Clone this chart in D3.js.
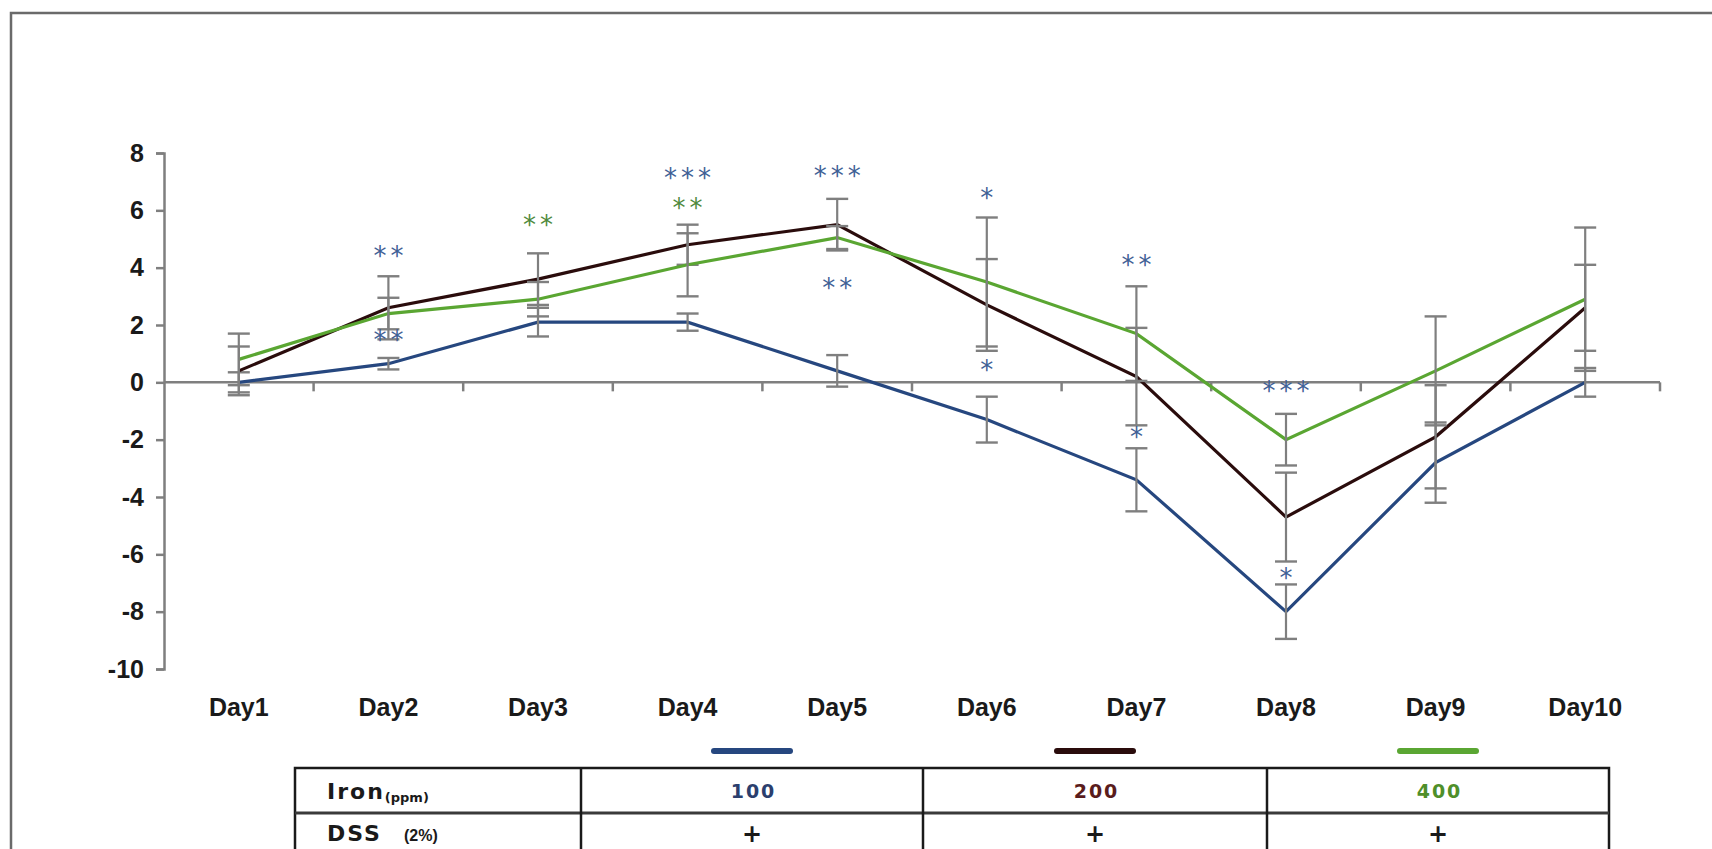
<!DOCTYPE html>
<html>
<head>
<meta charset="utf-8">
<script src="https://cdn.jsdelivr.net/npm/d3@7"></script>
<style>
  html, body { margin: 0; padding: 0; background: #fff; }
  svg { display: block; }
</style>
</head>
<body>
<svg id="chart" width="1712" height="849"></svg>
<script>
// ---------- DATA ----------
const days = ["Day1","Day2","Day3","Day4","Day5","Day6","Day7","Day8","Day9","Day10"];
const yTicks = [8, 6, 4, 2, 0, -2, -4, -6, -8, -10];
const seriesLabels = ["100", "200", "400"];
const seriesColors = ["#26477f", "#2a0c0c", "#5aa632"];
const labelColors = ["#2b3f6e", "#5a1c1c", "#4f8f2a"];
const iron100 = [0.0, 0.65, 2.1, 2.1, 0.4, -1.3, -3.4, -8.0, -2.8, 0.0];
const iron200 = [0.4, 2.6, 3.6, 4.8, 5.5, 2.7, 0.2, -4.7, -1.9, 2.6];
const iron400 = [0.8, 2.4, 2.9, 4.1, 5.05, 3.5, 1.7, -2.0, 0.4, 2.9];
const err100 = [0.35, 0.2, 0.5, 0.3, 0.55, 0.8, 1.1, 0.95, 1.4, 0.5];
const err200 = [0.85, 1.1, 0.9, 0.7, 0.9, 1.6, 1.7, 1.55, 1.8, 1.5];
const err400 = [0.9, 0.55, 0.6, 1.1, 0.4, 2.25, 1.65, 0.9, 1.9, 2.5];
// significance marks: day, value position, text, colour kind
const sigDays   = ["Day2","Day2","Day3","Day4","Day4","Day5","Day5","Day6","Day6","Day7","Day7","Day8","Day8"];
const sigValues = [4.6, 1.7, 5.7, 7.35, 6.3, 7.4, 3.5, 6.65, 0.65, 4.3, -1.7, -0.1, -6.6];
const sigTexts  = ["**","**","**","***","**","***","**","*","*","**","*","***","*"];
const sigKinds  = ["b","b","g","b","g","b","b","b","b","b","b","b","b"];
const tableRowHeads = ["Iron", "DSS"];
const tableRowSubs = ["(ppm)", "(2%)"];
const dssValues = ["+", "+", "+"];

const values = [iron100, iron200, iron400];
const errors = [err100, err200, err400];

// ---------- LAYOUT ----------
const svg = d3.select("#chart");
const x = d3.scaleBand().domain(days).range([164, 1660]);
const y = d3.scaleLinear().domain([-10, 8]).range([669, 153]);
const axisColor = "#7f7f7f";

// outer frame
svg.append("path")
  .attr("d", "M11,849 L11,13 L1712,13")
  .attr("fill", "none").attr("stroke", "#6a6a6a").attr("stroke-width", 2.5);

// y axis
const yAxis = d3.axisLeft(y).tickValues(yTicks).tickSize(8).tickPadding(12).tickFormat(d3.format("d"));
const gy = svg.append("g").attr("transform", "translate(164,0)").call(yAxis);
gy.select(".domain").attr("stroke", axisColor).attr("stroke-width", 2.5);
gy.selectAll(".tick line").attr("stroke", axisColor).attr("stroke-width", 2.5);
gy.selectAll(".tick text")
  .attr("font-family", "Liberation Sans, Arial, sans-serif")
  .attr("font-weight", "bold").attr("font-size", 25).attr("fill", "#1a1a1a")
  .text(d => d < 0 ? "-" + Math.abs(d) : d);

// x axis at zero
const boundaries = days.map(d => x(d) + x.bandwidth());
const gx = svg.append("g");
gx.append("line")
  .attr("x1", x.range()[0]).attr("x2", x.range()[1])
  .attr("y1", y(0)).attr("y2", y(0))
  .attr("stroke", axisColor).attr("stroke-width", 2.5);
gx.selectAll("line.tk").data(boundaries).join("line").attr("class", "tk")
  .attr("x1", d => d).attr("x2", d => d)
  .attr("y1", y(0)).attr("y2", y(0) + 9)
  .attr("stroke", axisColor).attr("stroke-width", 2.5);

// day labels
svg.append("g").selectAll("text").data(days).join("text")
  .attr("x", d => x(d) + x.bandwidth() / 2)
  .attr("y", 716)
  .attr("text-anchor", "middle")
  .attr("font-family", "Liberation Sans, Arial, sans-serif")
  .attr("font-weight", "bold").attr("font-size", 25).attr("fill", "#1a1a1a")
  .text(d => d);

const cx = d => x(d) + x.bandwidth() / 2;
const line = d3.line().x((v, i) => cx(days[i])).y(v => y(v));

// series lines and error bars
values.forEach((vals, s) => {
  const g = svg.append("g");
  g.append("path").datum(vals)
    .attr("d", line)
    .attr("fill", "none")
    .attr("stroke", seriesColors[s])
    .attr("stroke-width", 3.2)
    .attr("stroke-linejoin", "miter");
  const eb = g.selectAll("g.eb").data(vals.map((v, i) => ({v, e: errors[s][i], d: days[i]}))).join("g");
  eb.append("line")
    .attr("x1", d => cx(d.d)).attr("x2", d => cx(d.d))
    .attr("y1", d => y(d.v + d.e)).attr("y2", d => y(d.v - d.e))
    .attr("stroke", axisColor).attr("stroke-width", 2.2);
  [1, -1].forEach(sign => {
    eb.append("line")
      .attr("x1", d => cx(d.d) - 11).attr("x2", d => cx(d.d) + 11)
      .attr("y1", d => y(d.v + sign * d.e)).attr("y2", d => y(d.v + sign * d.e))
      .attr("stroke", axisColor).attr("stroke-width", 2.4);
  });
});

// significance asterisks
svg.append("g").selectAll("text").data(sigTexts).join("text")
  .attr("x", (t, i) => cx(sigDays[i]) + 2)
  .attr("y", (t, i) => y(sigValues[i]) + 15)
  .attr("text-anchor", "middle")
  .attr("font-family", "DejaVu Sans, sans-serif")
  .attr("font-size", 26)
  .attr("letter-spacing", 4)
  .attr("fill", (t, i) => sigKinds[i] === "g" ? "#4f8a3c" : "#3f6196")
  .text(t => t);

// legend swatches above table columns
const colEdges = [295, 581, 923, 1267, 1609];
const colCenters = [1, 2, 3].map(k => (colEdges[k] + colEdges[k + 1]) / 2);
svg.append("g").selectAll("line").data(seriesColors).join("line")
  .attr("x1", (c, i) => colCenters[i] - 38).attr("x2", (c, i) => colCenters[i] + 38)
  .attr("y1", 751).attr("y2", 751)
  .attr("stroke", c => c).attr("stroke-width", 6).attr("stroke-linecap", "round");

// table
const tTop = 768, tMid = 813, tBot = 870;
const tg = svg.append("g");
tg.append("rect").attr("x", colEdges[0]).attr("y", tTop)
  .attr("width", colEdges[4] - colEdges[0]).attr("height", tBot - tTop)
  .attr("fill", "none").attr("stroke", "#1a1a1a").attr("stroke-width", 2.5);
tg.append("line").attr("x1", colEdges[0]).attr("x2", colEdges[4])
  .attr("y1", tMid).attr("y2", tMid).attr("stroke", "#3a3a3a").attr("stroke-width", 3);
[1, 2, 3].forEach(k => {
  tg.append("line").attr("x1", colEdges[k]).attr("x2", colEdges[k])
    .attr("y1", tTop).attr("y2", tBot).attr("stroke", "#1a1a1a").attr("stroke-width", 2.5);
});
// row heads
const rowY = [799, 841];
tableRowHeads.forEach((h, r) => {
  const t = tg.append("text").attr("x", 327).attr("y", rowY[r])
    .attr("font-family", "DejaVu Sans, sans-serif").attr("font-weight", "bold")
    .attr("fill", "#1a1a1a");
  t.append("tspan").attr("font-size", 22).attr("letter-spacing", 2).text(h);
  t.append("tspan").attr("font-size", r === 0 ? 13 : 16)
    .attr("dx", r === 0 ? 0 : 22).attr("dy", r === 0 ? 3 : 0)
    .attr("font-family", r === 0 ? "DejaVu Sans, sans-serif" : "Liberation Sans Narrow, Liberation Sans, sans-serif")
    .text(tableRowSubs[r]);
});
// iron values
tg.selectAll("text.iv").data(seriesLabels).join("text").attr("class", "iv")
  .attr("x", (d, i) => colCenters[i] + 1.5).attr("y", rowY[0] - 1)
  .attr("text-anchor", "middle")
  .attr("font-family", "DejaVu Sans, sans-serif").attr("font-weight", "bold")
  .attr("font-size", 19).attr("letter-spacing", 2)
  .attr("fill", (d, i) => labelColors[i])
  .text(d => d);
// dss values
tg.selectAll("text.dv").data(dssValues).join("text").attr("class", "dv")
  .attr("x", (d, i) => colCenters[i]).attr("y", rowY[1] + 1)
  .attr("text-anchor", "middle")
  .attr("font-family", "DejaVu Sans, sans-serif").attr("font-weight", "bold")
  .attr("font-size", 24).attr("fill", "#1a1a1a")
  .text(d => d);
</script>
</body>
</html>
